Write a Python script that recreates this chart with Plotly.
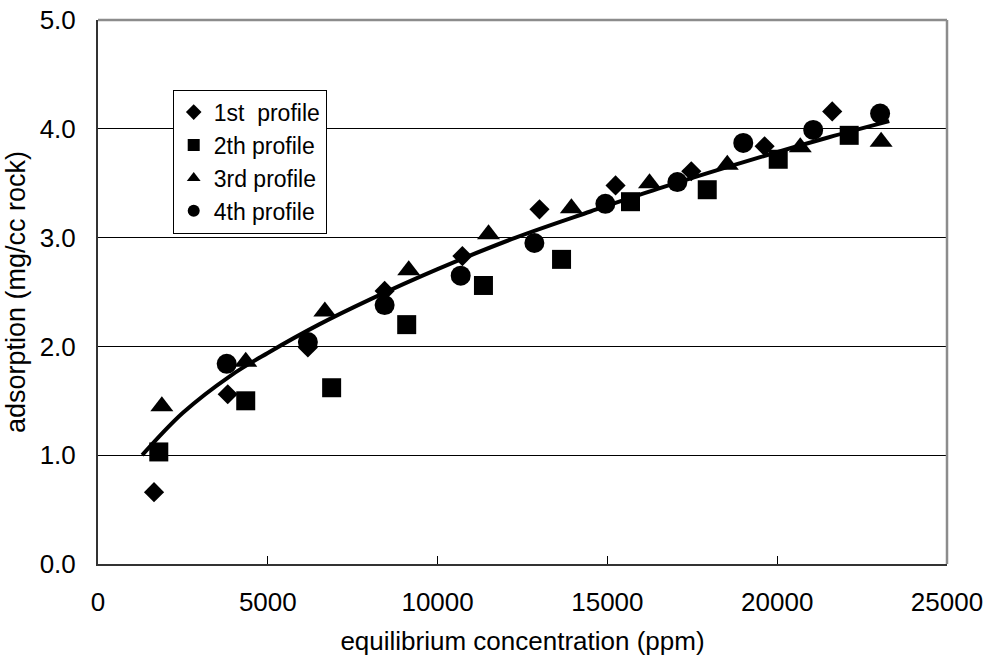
import plotly.graph_objects as go

# Equilibrium concentration (ppm) and adsorption (mg/cc rock) for each profile
x_p1 = [1650, 3820, 6180, 8440, 10730, 13000, 15240, 17470, 19630, 21620]
y_p1 = [0.66, 1.56, 1.99, 2.51, 2.83, 3.26, 3.48, 3.61, 3.84, 4.16]

x_p2 = [1790, 4350, 6880, 9090, 11350, 13650, 15680, 17940, 20030, 22120]
y_p2 = [1.03, 1.50, 1.62, 2.20, 2.56, 2.80, 3.33, 3.44, 3.72, 3.94]

x_p3 = [1880, 4350, 6680, 9150, 11500, 13940, 16240, 18530, 20680, 23060]
y_p3 = [1.45, 1.86, 2.32, 2.70, 3.03, 3.27, 3.50, 3.67, 3.83, 3.88]

x_p4 = [3790, 6180, 8440, 10680, 12850, 14940, 17060, 19000, 21060, 23030]
y_p4 = [1.84, 2.04, 2.38, 2.65, 2.95, 3.31, 3.51, 3.87, 3.99, 4.14]

# Trendline through the profiles
x_trend = [1300, 2500, 3900, 5000, 6500, 8000, 10000, 12300, 14500, 16500, 19500, 21500, 23300]
y_trend = [1.00, 1.39, 1.73, 1.94, 2.20, 2.43, 2.71, 3.00, 3.24, 3.45, 3.74, 3.92, 4.07]

x_ticks = [0, 5000, 10000, 15000, 20000, 25000]
y_ticks = [0.0, 1.0, 2.0, 3.0, 4.0, 5.0]

fig = go.Figure()

fig.add_trace(go.Scatter(
    x=x_trend, y=y_trend, mode="lines",
    line=dict(color="black", width=4, shape="spline", smoothing=1.0),
    showlegend=False, hoverinfo="skip",
))

series = [
    ("1st  profile", x_p1, y_p1, "diamond", 15.5),
    ("2th profile", x_p2, y_p2, "square", 19),
    ("3rd profile", x_p3, y_p3, "triangle-up", 20),
    ("4th profile", x_p4, y_p4, "circle", 20),
]
for name, xs, ys, sym, size in series:
    fig.add_trace(go.Scatter(
        x=xs, y=ys, mode="markers", name=name,
        marker=dict(symbol=sym, size=size, color="black", line=dict(width=0)),
    ))

font = "Liberation Sans, Arial, sans-serif"

fig.update_layout(
    width=990, height=664,
    margin=dict(l=98, r=43, t=20, b=100),
    paper_bgcolor="white", plot_bgcolor="white",
    font=dict(family=font, size=26, color="black"),
    legend=dict(
        x=0.088, y=0.872, xanchor="left", yanchor="top",
        bgcolor="white", bordercolor="black", borderwidth=1,
        font=dict(family=font, size=23, color="black"),
        itemsizing="constant", tracegroupgap=0,
    ),
    showlegend=True,
)

fig.update_xaxes(
    range=[0, 25000], tickvals=x_ticks,
    ticktext=[str(v) for v in x_ticks],
    ticks="inside", ticklen=8, tickcolor="black",
    ticklabelstandoff=14, automargin=False,
    showgrid=False, zeroline=False,
    showline=True, linecolor="#333333", linewidth=2,
    title=dict(text="equilibrium concentration (ppm)", standoff=16,
               font=dict(family=font, size=26)),
    tickfont=dict(family=font, size=26),
)
fig.update_yaxes(
    range=[0, 5.0], tickvals=y_ticks,
    ticktext=[f"{v:.1f}" for v in y_ticks],
    ticks="inside", ticklen=8, tickcolor="black",
    ticklabelstandoff=15, automargin=False,
    showgrid=True, gridcolor="black", gridwidth=1,
    zeroline=False,
    showline=True, linecolor="#333333", linewidth=2,
    title=dict(text="adsorption (mg/cc rock)", standoff=6,
               font=dict(family=font, size=27)),
    tickfont=dict(family=font, size=26),
)

# Grey frame on the top and right sides of the plot area
fig.add_shape(type="line", xref="paper", yref="paper", x0=0, x1=1, y0=1, y1=1,
              line=dict(color="#8c8c8c", width=2.5))
fig.add_shape(type="line", xref="paper", yref="paper", x0=1, x1=1, y0=0, y1=1,
              line=dict(color="#8c8c8c", width=2.5))

fig.write_html("out.html")
